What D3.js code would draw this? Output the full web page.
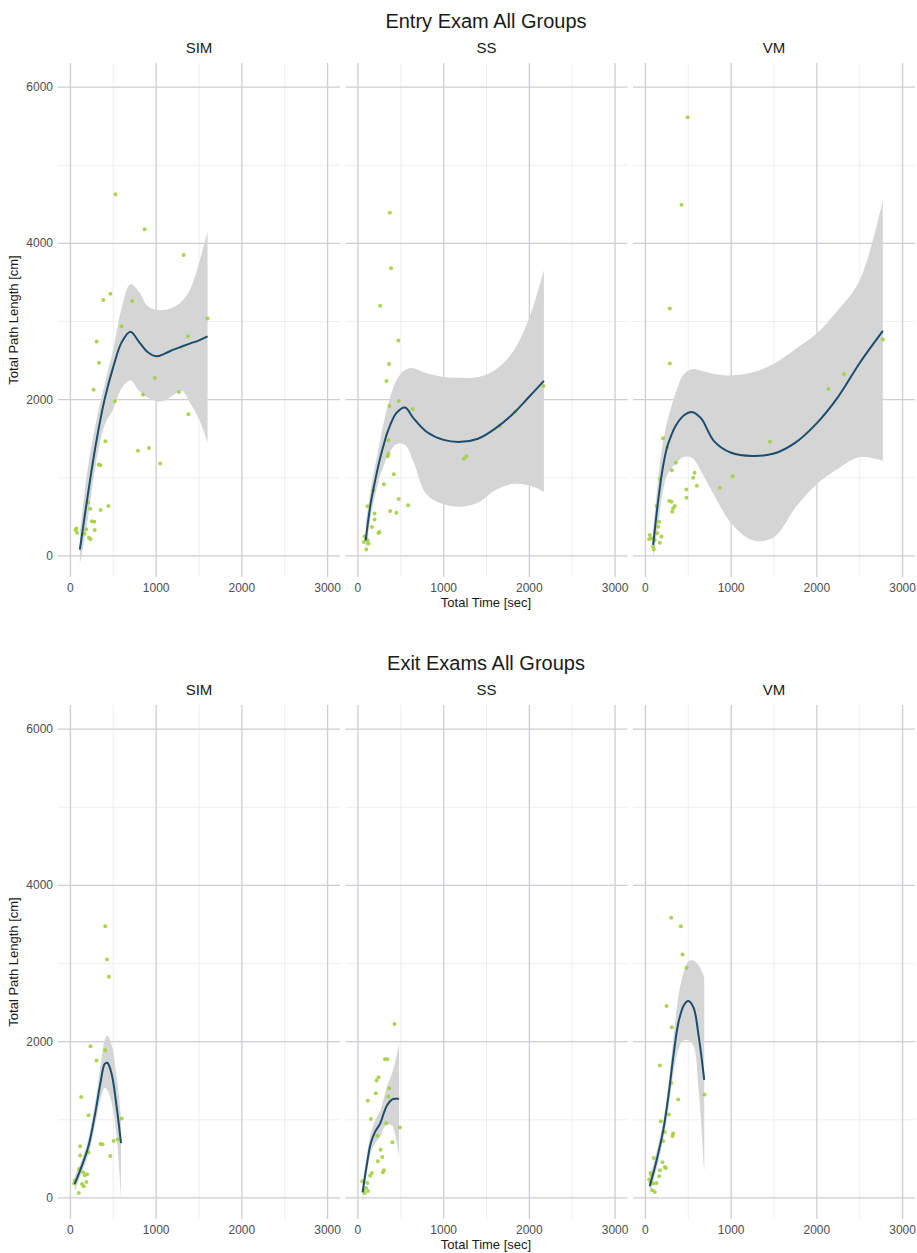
<!DOCTYPE html>
<html>
<head>
<meta charset="utf-8">
<script src="https://cdn.jsdelivr.net/npm/d3@7"></script>
<style>
  body { margin: 0; background: #fff; }
  svg text { font-family: "Liberation Sans", Arial, sans-serif; }
</style>
</head>
<body>
<div id="chart"></div>
<script>
// facet + block labels
var groups = ["SIM", "SS", "VM"];
var blockTitles = ["Entry Exam All Groups", "Exit Exams All Groups"];
var xTicks = [0, 1000, 2000, 3000];
var xMinor = [500, 1500, 2500];
var yTicks = [0, 2000, 4000, 6000];
var yMinor = [1000, 3000, 5000];

// points: [total time sec, total path length cm]
var entrySIM = [[525,4630],[866,4183],[1321,3851],[466,3357],[384,3277],[721,3264],[1600,3038],[596,2940],[1372,2813],[306,2745],[333,2472],[984,2277],[270,2128],[847,2064],[1266,2098],[517,1979],[1376,1813],[408,1468],[788,1345],[917,1383],[1047,1183],[349,1162],[330,1170],[202,687],[231,604],[353,587],[443,638],[278,438],[59,332],[78,298],[184,340],[282,332],[216,234],[235,213],[165,285],[70,350],[250,443]];
var entrySS = [[372,4392],[387,3684],[259,3203],[472,2759],[364,2456],[333,2239],[476,1983],[368,1919],[639,1881],[2164,2175],[1831,1846],[1653,1663],[1235,1245],[1266,1275],[356,1480],[356,1309],[348,1275],[418,1045],[302,917],[182,840],[476,729],[585,648],[376,576],[449,554],[112,635],[194,542],[194,465],[163,371],[252,307],[240,294],[77,252],[93,222],[124,158],[97,81],[70,179],[112,200]];
var entryVM = [[491,5617],[421,4494],[284,3166],[284,2464],[2770,2770],[2318,2328],[2135,2136],[1453,1460],[206,1506],[253,1387],[355,1191],[308,1098],[168,983],[573,1064],[557,1000],[600,898],[479,851],[479,745],[869,872],[1017,1021],[277,702],[304,694],[343,638],[323,609],[312,566],[129,638],[160,438],[148,374],[51,268],[70,226],[109,204],[187,247],[168,170],[90,119],[97,85],[136,289],[43,213]];
var exitSIM = [[406,3478],[426,3052],[449,2830],[234,1942],[406,1891],[305,1758],[125,1293],[211,1058],[598,1016],[504,730],[351,691],[375,687],[465,538],[113,662],[113,542],[211,580],[101,371],[148,329],[168,290],[195,303],[51,226],[43,184],[136,179],[156,149],[187,205],[98,64],[550,747]];
var exitSS = [[426,2226],[315,1774],[343,1774],[240,1545],[217,1502],[209,1340],[366,1404],[355,1298],[114,1243],[150,1009],[489,902],[331,957],[402,711],[229,796],[264,617],[284,523],[233,468],[303,353],[292,328],[162,319],[142,285],[51,213],[67,106],[95,128],[79,64],[118,89],[110,191]];
var exitVM = [[300,3585],[413,3478],[433,3116],[480,2945],[246,2458],[308,2185],[168,1694],[690,1323],[382,1259],[304,1472],[273,1067],[179,982],[324,824],[316,794],[226,845],[207,730],[98,512],[199,457],[226,397],[238,384],[59,320],[70,290],[168,354],[43,235],[59,205],[90,184],[129,192],[82,98],[109,77],[160,277]];

// loess fit: [time, fit, lower, upper]
var entrySIMFit = [[110,80,-120,300],[200,760,450,1100],[300,1450,1200,1720],[400,2010,1680,2200],[500,2420,1880,2650],[600,2740,2150,3180],[700,2870,2250,3480],[800,2740,2110,3380],[900,2610,2030,3200],[1000,2555,1980,3150],[1100,2590,1990,3150],[1200,2640,2060,3180],[1300,2680,2110,3260],[1400,2720,1950,3420],[1500,2760,1750,3750],[1600,2810,1460,4150]];
var entrySSFit = [[90,200,0,400],[150,680,500,860],[200,960,770,1150],[250,1210,990,1430],[300,1420,1150,1700],[350,1600,1290,1930],[450,1830,1430,2250],[550,1900,1420,2380],[650,1760,1200,2400],[800,1590,790,2340],[1000,1485,660,2290],[1200,1460,630,2280],[1400,1500,680,2290],[1600,1630,840,2380],[1800,1810,920,2600],[2000,2040,900,3050],[2170,2240,820,3660]];
var entryVMFit = [[90,140,-60,330],[150,720,420,1000],[200,1110,800,1420],[250,1380,1030,1700],[300,1540,1120,1900],[350,1660,1180,2080],[450,1800,1270,2330],[550,1840,1250,2390],[650,1760,1080,2370],[800,1470,780,2330],[1000,1320,420,2310],[1250,1280,200,2350],[1500,1310,240,2460],[1750,1450,620,2650],[2000,1700,920,2850],[2250,2040,1120,3150],[2500,2470,1265,3530],[2770,2880,1220,4550]];
var exitSIMFit = [[50,180,80,280],[130,400,320,480],[210,660,560,760],[290,1090,950,1230],[350,1470,1260,1680],[400,1715,1410,2020],[430,1730,1380,2080],[480,1590,1220,1960],[540,1160,770,1550],[590,700,20,1020]];
var exitSSFit = [[55,70,-40,180],[100,400,280,520],[150,700,580,820],[200,845,700,990],[260,955,790,1120],[300,1080,890,1270],[340,1185,940,1430],[400,1260,920,1600],[440,1270,780,1760],[480,1268,530,1980]];
var exitVMFit = [[50,150,40,260],[130,480,370,590],[210,880,760,1000],[270,1320,1160,1480],[330,1850,1620,2080],[390,2270,1920,2620],[450,2470,2020,2900],[500,2520,2020,3030],[560,2440,1950,3040],[620,2080,1400,2980],[686,1510,350,2830]];

var panelData = [
  [entrySIM, entrySS, entryVM],
  [exitSIM, exitSS, exitVM]
];
var panelFits = [
  [entrySIMFit, entrySSFit, entryVMFit],
  [exitSIMFit, exitSSFit, exitVMFit]
];

var W = 917, H = 1253;
var panelW = 282;
var panelLeft = [58, 345.5, 633];
var blockTop = [63, 705];
var panelH = 514;

var gridMajor = "#d1ccd3", gridMinor = "#ebe9ec";
var pointColor = "#a3cf3d", lineColor = "#1b4d6d", ribbonColor = "#d5d5d5";

var svg = d3.select("#chart").append("svg")
  .attr("width", W).attr("height", H);

var x = d3.scaleLinear().domain([-145, 3145]).range([0, panelW]);
var y = d3.scaleLinear().domain([-270, 6310]).range([panelH, 0]);

blockTitles.forEach(function(title, b) {
  var top = blockTop[b];

  svg.append("text")
    .attr("x", 486).attr("y", top - 35)
    .attr("text-anchor", "middle")
    .attr("font-size", "20px")
    .attr("fill", "#1a1a1a")
    .text(title);

  // y axis title
  svg.append("text")
    .attr("transform", "translate(18," + (top + panelH / 2) + ") rotate(-90)")
    .attr("text-anchor", "middle")
    .attr("font-size", "13px")
    .attr("fill", "#1a1a1a")
    .text("Total Path Length [cm]");

  // x axis title
  svg.append("text")
    .attr("x", 486).attr("y", top + panelH + 30)
    .attr("text-anchor", "middle")
    .attr("font-size", "13px")
    .attr("fill", "#1a1a1a")
    .text("Total Time [sec]");

  groups.forEach(function(g, i) {
    var p = svg.append("g")
      .attr("transform", "translate(" + panelLeft[i] + "," + top + ")");

    // strip label
    p.append("text")
      .attr("x", panelW / 2).attr("y", -10)
      .attr("text-anchor", "middle")
      .attr("font-size", "15px")
      .attr("fill", "#1a1a1a")
      .text(g);

    // grid
    p.selectAll(".ymin").data(yMinor).enter().append("line")
      .attr("x1", 0).attr("x2", panelW)
      .attr("y1", function(d) { return y(d); }).attr("y2", function(d) { return y(d); })
      .attr("stroke", gridMinor).attr("stroke-width", 0.8);
    p.selectAll(".xmin").data(xMinor).enter().append("line")
      .attr("y1", 0).attr("y2", panelH)
      .attr("x1", function(d) { return x(d); }).attr("x2", function(d) { return x(d); })
      .attr("stroke", gridMinor).attr("stroke-width", 0.8);
    p.selectAll(".ymaj").data(yTicks).enter().append("line")
      .attr("x1", 0).attr("x2", panelW)
      .attr("y1", function(d) { return y(d); }).attr("y2", function(d) { return y(d); })
      .attr("stroke", gridMajor).attr("stroke-width", 1.3);
    p.selectAll(".xmaj").data(xTicks).enter().append("line")
      .attr("y1", 0).attr("y2", panelH)
      .attr("x1", function(d) { return x(d); }).attr("x2", function(d) { return x(d); })
      .attr("stroke", gridMajor).attr("stroke-width", 1.3);

    // x tick labels
    p.selectAll(".xlab").data(xTicks).enter().append("text")
      .attr("x", function(d) { return x(d); })
      .attr("y", panelH + 15)
      .attr("text-anchor", "middle")
      .attr("font-size", "12px")
      .attr("fill", "#4d4d4d")
      .text(function(d) { return d; });

    // y tick labels on first panel only
    if (i == 0) {
      p.selectAll(".ylab").data(yTicks).enter().append("text")
        .attr("x", -5)
        .attr("y", function(d) { return y(d) + 4; })
        .attr("text-anchor", "end")
        .attr("font-size", "12px")
        .attr("fill", "#4d4d4d")
        .text(function(d) { return d; });
    }

    var fit = panelFits[b][i];

    // confidence ribbon
    var area = d3.area()
      .x(function(d) { return x(d[0]); })
      .y0(function(d) { return y(d[2]); })
      .y1(function(d) { return y(d[3]); })
      .curve(d3.curveCatmullRom.alpha(0.5));
    p.append("path").datum(fit)
      .attr("d", area)
      .attr("fill", ribbonColor);

    // points
    p.selectAll("circle").data(panelData[b][i]).enter().append("circle")
      .attr("cx", function(d) { return x(d[0]); })
      .attr("cy", function(d) { return y(d[1]); })
      .attr("r", 2)
      .attr("fill", pointColor)
      .attr("opacity", 0.9);

    // smooth line
    var line = d3.line()
      .x(function(d) { return x(d[0]); })
      .y(function(d) { return y(d[1]); })
      .curve(d3.curveCatmullRom.alpha(0.5));
    p.append("path").datum(fit)
      .attr("d", line)
      .attr("fill", "none")
      .attr("stroke", lineColor)
      .attr("stroke-width", 2);
  });
});
</script>
</body>
</html>
